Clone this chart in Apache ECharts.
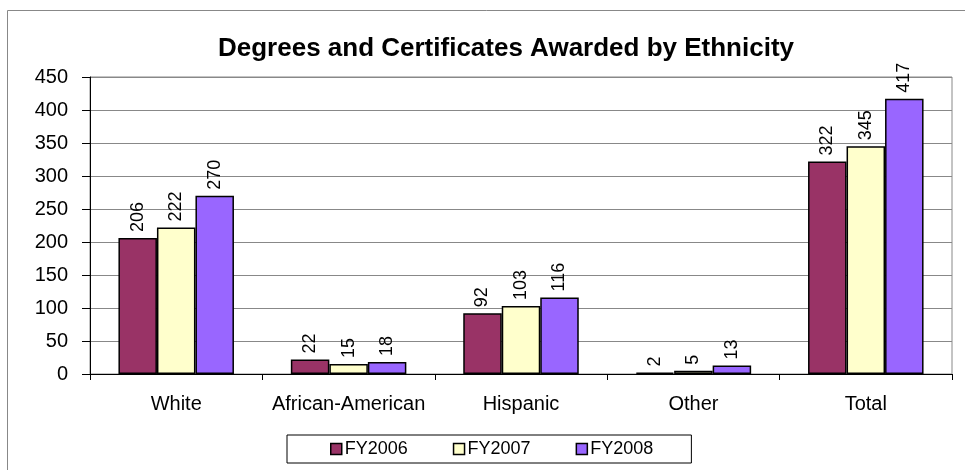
<!DOCTYPE html>
<html>
<head>
<meta charset="utf-8">
<script src="https://cdn.jsdelivr.net/npm/echarts@6/dist/echarts.min.js"></script>
<style>
  html, body { margin: 0; padding: 0; background: #fff; }
  #myChart { width: 965px; height: 470px; }
</style>
</head>
<body>
<div id="myChart"></div>
<script>
  // 数据
  var categories = ['White', 'African-American', 'Hispanic', 'Other', 'Total']
  var fy2006 = [206, 22, 92, 2, 322]
  var fy2007 = [222, 15, 103, 5, 345]
  var fy2008 = [270, 18, 116, 13, 417]
  var seriesNames = ['FY2006', 'FY2007', 'FY2008']
  var colors = ['#993366', '#FFFFCC', '#9966FF']

  var font = 'Liberation Sans, Arial, sans-serif'

  function makeSeries(name, data, color) {
    return {
      name: name,
      type: 'bar',
      data: data,
      barGap: 0,
      barCategoryGap: '33%',
      itemStyle: { color: color, borderColor: '#000', borderWidth: 1.5 },
      label: {
        show: true,
        position: 'top',
        rotate: 90,
        align: 'left',
        verticalAlign: 'middle',
        distance: 6,
        fontFamily: font,
        fontSize: 18,
        color: '#000'
      }
    }
  }

  var chart = echarts.init(document.getElementById('myChart'))
  chart.setOption({
    animation: false,
    backgroundColor: '#fff',
    graphic: [{
      type: 'rect',
      shape: { x: 7.5, y: 10.5, width: 980, height: 480 },
      style: { fill: 'none', stroke: '#888', lineWidth: 1 },
      silent: true
    }],
    title: {
      text: 'Degrees and Certificates Awarded by Ethnicity',
      left: 501,
      textAlign: 'center',
      top: 31,
      textStyle: { fontFamily: font, fontSize: 26, fontWeight: 'bold', color: '#000' }
    },
    legend: {
      data: seriesNames,
      top: 435,
      left: 287,
      padding: [5, 38, 5, 43],
      borderColor: '#000',
      borderWidth: 1,
      itemGap: 45,
      itemWidth: 11,
      itemHeight: 11,
      icon: 'rect',
      itemStyle: { borderColor: '#000', borderWidth: 1.5 },
      textStyle: { fontFamily: font, fontSize: 18, color: '#000', padding: [0, 0, 0, -2] }
    },
    grid: {
      left: 90, right: 13, top: 77, bottom: 96,
      show: true, borderColor: '#888', borderWidth: 1
    },
    xAxis: {
      type: 'category',
      data: categories,
      axisLine: { lineStyle: { color: '#000', width: 1 } },
      axisTick: { show: true, length: 6, lineStyle: { color: '#000' } },
      axisLabel: {
        interval: 0,
        hideOverlap: false,
        fontFamily: font, fontSize: 20, color: '#000', margin: 20
      }
    },
    yAxis: {
      type: 'value',
      min: 0,
      max: 450,
      interval: 50,
      axisLine: { show: true, lineStyle: { color: '#000', width: 1 } },
      axisTick: { show: true, length: 8, lineStyle: { color: '#000' } },
      axisLabel: { fontFamily: font, fontSize: 20, color: '#000', margin: 22 },
      splitLine: { lineStyle: { color: '#888', width: 1 } }
    },
    series: [
      makeSeries(seriesNames[0], fy2006, colors[0]),
      makeSeries(seriesNames[1], fy2007, colors[1]),
      makeSeries(seriesNames[2], fy2008, colors[2])
    ]
  })
</script>
</body>
</html>
